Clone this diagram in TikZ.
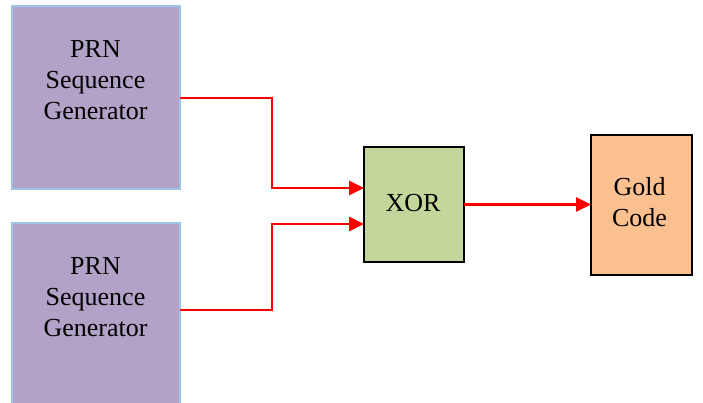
\documentclass[tikz,border=0pt]{standalone}
\usepackage{fontspec}
\setmainfont{Liberation Serif}
\usetikzlibrary{arrows.meta}
\definecolor{prnfill}{HTML}{B2A2C7}
\definecolor{prnborder}{HTML}{9DC3E6}
\definecolor{xorfill}{HTML}{C3D69B}
\definecolor{goldfill}{HTML}{FAC090}
\definecolor{wirered}{HTML}{FF0000}
\begin{document}
\begin{tikzpicture}[x=1pt,y=-1pt,
  prnbox/.style={draw=prnborder,fill=prnfill,line width=1.5pt,minimum width=168pt,minimum height=#1,inner sep=0pt,outer sep=0pt},
  blackbox/.style={draw=black,line width=2pt,inner sep=0pt,outer sep=0pt},
  txt/.style={align=center,font=\fontsize{26}{31}\selectfont,inner sep=0pt},
  conn/.style={draw=wirered,line width=2.6pt,-{Triangle[length=15pt,width=14pt]}}]
\useasboundingbox (0,0) rectangle (703,403);
\node[prnbox=183pt] (p1) at (96,97.5) {};
\node[txt] (t1) at (95.5,80.5) {PRN\\Sequence\\Generator};
\node[prnbox=187pt] (p2) at (96,316.5) {};
\node[txt] (t2) at (95.5,297.5) {PRN\\Sequence\\Generator};
\node[blackbox,fill=xorfill,minimum width=100pt,minimum height=115pt] (xor) at (414,204.5) {};
\node[txt] (tx) at (413,203) {XOR};
\node[blackbox,fill=goldfill,minimum width=101pt,minimum height=140pt] (gold) at (641.5,205) {};
\node[txt] (tg) at (639.5,202) {Gold\\Code};
\coordinate (k1) at (272,98);
\coordinate (k2) at (272,310);
\draw[conn] ([yshift=-0.5pt]p1.east) -- (k1) |- ([yshift=16.5pt]xor.west);
\draw[conn] ([yshift=6.5pt]p2.east) -- (k2) |- ([yshift=-19.5pt]xor.west);
\draw[conn] (xor.east) -- (xor.east -| gold.west);
\end{tikzpicture}
\end{document}
